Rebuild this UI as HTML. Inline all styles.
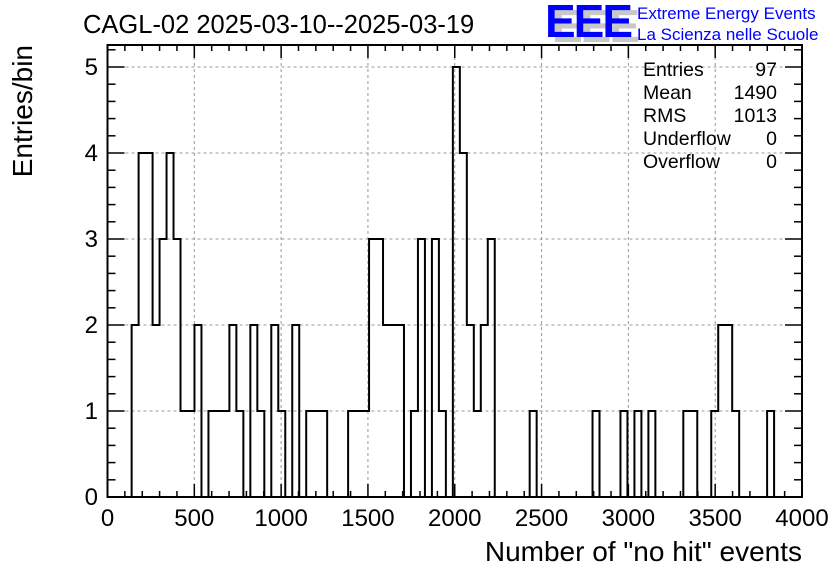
<!DOCTYPE html>
<html><head><meta charset="utf-8"><style>
body{margin:0;background:#fff}
svg{display:block;font-family:"Liberation Sans",sans-serif}
</style></head><body>
<svg id="c" width="836" height="572" viewBox="0 0 836 572">
<rect width="836" height="572" fill="#fff"/>
<text x="83" y="33" font-size="25.5">CAGL-02 2025-03-10--2025-03-19</text>
<g>
<text x="552" y="42" font-size="46" font-weight="bold" fill="#c8c8c8" letter-spacing="-2">EEE</text>
<text x="545" y="37" font-size="46" font-weight="bold" fill="#0000ff" letter-spacing="-2">EEE</text>
<text x="637" y="19" font-size="17" fill="#0000ff">Extreme Energy Events</text>
<text x="637" y="40" font-size="17" fill="#0000ff">La Scienza nelle Scuole</text>
</g>
<g id="grid"></g>
<g id="hist"></g>
<g id="axes"></g>
<g font-size="19.5">
<text x="643" y="76">Entries</text><text x="777" y="76" text-anchor="end">97</text>
<text x="643" y="99">Mean</text><text x="777" y="99" text-anchor="end">1490</text>
<text x="643" y="122">RMS</text><text x="777" y="122" text-anchor="end">1013</text>
<text x="643" y="145">Underflow</text><text x="777" y="145" text-anchor="end">0</text>
<text x="643" y="168">Overflow</text><text x="777" y="168" text-anchor="end">0</text>
</g>
<text x="802" y="561" font-size="28" text-anchor="end">Number of "no hit" events</text>
<text transform="translate(32,45) rotate(-90)" font-size="28" text-anchor="end">Entries/bin</text>
</svg>
<script>
const binStart = 139;
const binWidth = 40.22;
const counts = [2,4,4,2,3,4,3,1,1,2,0,1,1,1,2,1,0,2,1,0,2,1,0,2,0,1,1,1,0,0,0,1,1,1,3,3,2,2,2,0,1,3,0,3,1,0,5,4,2,1,2,3,0,0,0,0,0,1,0,0,0,0,0,0,0,0,1,0,0,0,1,0,1,0,1,0,0,0,0,1,1,0,0,1,2,2,1,0,0,0,0,1];
const xTicks = [0,500,1000,1500,2000,2500,3000,3500,4000];
const yTicks = [0,1,2,3,4,5];
const NS='http://www.w3.org/2000/svg';
const L=107.5,R=802,T=45,B=497;
const X=v=>L+(v/4000)*(R-L);
const Y=v=>B-v*86;
function mk(tag,attrs,parent){const e=document.createElementNS(NS,tag);for(const k in attrs)e.setAttribute(k,attrs[k]);parent.appendChild(e);return e;}
const grid=document.getElementById('grid'),axes=document.getElementById('axes'),hist=document.getElementById('hist');
xTicks.forEach(v=>{if(v>0&&v<4000){const g=mk('line',{x1:X(v),x2:X(v),y1:T,y2:B,stroke:'#999','stroke-dasharray':'3,3','stroke-width':1},grid);

}});
yTicks.forEach(v=>{if(v>0){const g=mk('line',{x1:L,x2:R,y1:Y(v),y2:Y(v),stroke:'#999','stroke-dasharray':'3,3','stroke-width':1},grid);

}});
let d='M'+X(binStart)+','+Y(0);
counts.forEach((c,i)=>{const x0=X(binStart+i*binWidth),x1=X(binStart+(i+1)*binWidth);d+=' L'+x0+','+Y(c)+' L'+x1+','+Y(c);});
d+=' L'+X(binStart+counts.length*binWidth)+','+Y(0);
const p=mk('path',{d:d,fill:'none',stroke:'#000','stroke-width':2},hist);


const fr=mk('rect',{x:L,y:T,width:R-L,height:B-T,fill:'none',stroke:'#000','stroke-width':2},axes);


for(let v=0;v<=4000;v+=100){const maj=v%500===0,len=maj?13:6;
mk('line',{x1:X(v),x2:X(v),y1:B,y2:B-len,stroke:'#000','stroke-width':1.5},axes);
mk('line',{x1:X(v),x2:X(v),y1:T,y2:T+len,stroke:'#000','stroke-width':1.5},axes);}
xTicks.forEach(v=>{const t=mk('text',{x:X(v),y:526,'font-size':24,'text-anchor':'middle'},axes);t.textContent=v;

});
for(let i=0;i<=26;i++){const v=i*0.2;if(Y(v)<T-0.5)break;const maj=i%5===0,len=maj?17:8;
mk('line',{x1:L,x2:L+len,y1:Y(v),y2:Y(v),stroke:'#000','stroke-width':1.5},axes);
mk('line',{x1:R,x2:R-len,y1:Y(v),y2:Y(v),stroke:'#000','stroke-width':1.5},axes);}
yTicks.forEach(v=>{const t=mk('text',{x:98,y:Y(v)+8,'font-size':24,'text-anchor':'end'},axes);t.textContent=v;

});
</script>
</body></html>
